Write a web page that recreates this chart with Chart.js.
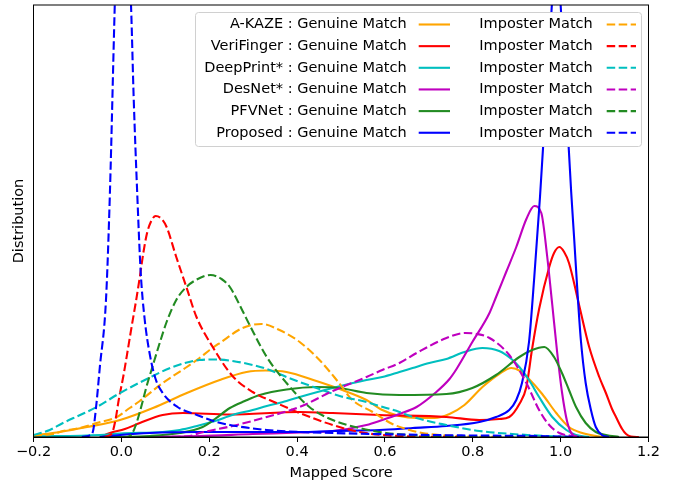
<!DOCTYPE html>
<html>
<head>
<meta charset="utf-8">
<script src="https://cdn.jsdelivr.net/npm/chart.js@4.4.1/dist/chart.umd.min.js"></script>
<style>
  html, body { margin: 0; padding: 0; background: #fff; }
  #chart { display: block; }
</style>
</head>
<body>
<canvas id="chart" width="683" height="483"></canvas>
<script>
const methods = ["A-KAZE", "VeriFinger", "DeepPrint*", "DesNet*", "PFVNet", "Proposed"];
const xTicks = [-0.2, 0.0, 0.2, 0.4, 0.6, 0.8, 1.0, 1.2];

// density curves, [mapped score, density]
const akazeGenuine = [[-0.200,0.15],[-0.140,0.5],[-0.078,1.0],[-0.003,1.7],[0.072,2.9],[0.149,4.4],[0.224,5.7],[0.285,6.5],[0.328,6.65],[0.376,6.5],[0.444,5.6],[0.503,4.7],[0.558,3.7],[0.594,2.7],[0.633,2.1],[0.672,1.9],[0.713,1.9],[0.747,2.3],[0.781,3.2],[0.822,5.0],[0.860,6.3],[0.888,6.9],[0.908,6.6],[0.928,5.8],[0.958,4.3],[0.990,2.4],[1.019,1.0],[1.049,0.4],[1.081,0.1],[1.110,0]];
const akazeImposter = [[-0.200,0.15],[-0.156,0.3],[-0.133,0.6],[-0.094,0.9],[-0.056,1.4],[-0.010,2.0],[0.019,2.9],[0.042,3.6],[0.094,5.4],[0.149,7.0],[0.178,7.9],[0.201,8.7],[0.224,9.4],[0.276,10.9],[0.319,11.3],[0.360,10.7],[0.406,9.5],[0.451,7.7],[0.490,5.7],[0.526,3.7],[0.572,2.5],[0.617,1.3],[0.656,0.7],[0.685,0.4],[0.724,0.2],[0.792,0.05],[0.860,0]];

const veriGenuine = [[-0.049,0],[-0.026,0.4],[0.008,0.8],[0.042,1.4],[0.094,2.2],[0.140,2.4],[0.247,2.25],[0.406,2.5],[0.481,2.4],[0.588,2.2],[0.740,2.0],[0.815,1.7],[0.860,1.8],[0.883,2.0],[0.906,3.3],[0.922,5.0],[0.935,8.8],[0.951,12.8],[0.974,17.0],[0.985,18.4],[0.997,19.0],[1.008,18.5],[1.019,17.4],[1.042,13.2],[1.065,9.0],[1.088,6.0],[1.103,4.4],[1.117,2.8],[1.126,2.0],[1.140,0.8],[1.149,0.3],[1.160,0.05],[1.178,0]];
const veriImposter = [[-0.038,0],[-0.030,0.1],[-0.020,0.5],[-0.013,1.8],[-0.006,3.7],[0.005,6.2],[0.015,8.8],[0.024,11.2],[0.033,13.5],[0.042,16.0],[0.050,18.4],[0.058,20.3],[0.067,21.5],[0.078,22.1],[0.092,21.8],[0.103,21.0],[0.125,18.0],[0.148,15.0],[0.171,12.0],[0.208,9.0],[0.253,6.1],[0.299,4.5],[0.353,3.4],[0.406,2.4],[0.481,1.2],[0.542,0.5],[0.594,0.2],[0.678,0.05],[0.769,0]];

const deepGenuine = [[-0.200,0.05],[-0.049,0.2],[-0.003,0.35],[0.094,0.5],[0.133,0.7],[0.172,1.1],[0.213,1.6],[0.253,2.2],[0.299,2.7],[0.331,3.1],[0.376,3.6],[0.406,4.0],[0.481,4.9],[0.558,5.7],[0.594,6.0],[0.633,6.5],[0.663,6.9],[0.701,7.4],[0.740,7.8],[0.781,8.5],[0.822,8.9],[0.860,8.6],[0.888,7.8],[0.906,7.0],[0.928,5.7],[0.951,4.0],[0.981,2.0],[1.013,0.7],[1.035,0.2],[1.065,0]];
const deepImposter = [[-0.200,0.2],[-0.163,0.7],[-0.133,1.4],[-0.094,2.2],[-0.056,3.0],[-0.003,4.4],[0.058,5.8],[0.117,7.0],[0.178,7.7],[0.217,7.75],[0.253,7.6],[0.299,7.2],[0.331,6.8],[0.376,6.0],[0.406,5.5],[0.451,4.8],[0.497,4.1],[0.558,3.5],[0.588,3.1],[0.633,2.5],[0.663,2.0],[0.740,1.2],[0.815,0.6],[0.890,0.3],[0.967,0.1],[1.042,0]];

const desGenuine = [[0.019,0],[0.178,0.1],[0.299,0.3],[0.406,0.45],[0.481,0.6],[0.558,1.2],[0.594,1.7],[0.633,2.3],[0.672,3.0],[0.717,4.5],[0.747,5.8],[0.763,6.8],[0.799,9.5],[0.838,12.4],[0.853,14.0],[0.876,16.5],[0.899,19.0],[0.922,21.8],[0.940,23.1],[0.956,22.4],[0.969,18.2],[0.981,13.2],[0.992,8.5],[1.003,4.5],[1.015,1.5],[1.026,0.3],[1.042,0]];
const desImposter = [[0.088,0],[0.156,0.1],[0.178,0.4],[0.253,1.1],[0.331,2.0],[0.406,3.0],[0.481,4.6],[0.558,6.0],[0.594,6.7],[0.633,7.4],[0.672,8.4],[0.740,9.9],[0.783,10.4],[0.810,10.3],[0.838,9.9],[0.883,8.2],[0.922,5.4],[0.951,2.7],[0.974,1.2],[0.997,0.4],[1.026,0.1],[1.050,0]];

const pfvGenuine = [[-0.026,0],[0.065,0.1],[0.133,0.4],[0.185,1.0],[0.213,1.8],[0.247,2.9],[0.281,3.6],[0.315,4.2],[0.376,4.75],[0.444,5.0],[0.497,4.9],[0.558,4.4],[0.633,4.2],[0.740,4.3],[0.799,4.9],[0.853,6.2],[0.906,8.0],[0.935,8.7],[0.963,9.0],[0.985,8.0],[1.003,6.4],[1.019,4.7],[1.035,3.0],[1.057,1.4],[1.080,0.5],[1.103,0.2],[1.133,0]];
const pfvImposter = [[0.005,0],[0.015,0.03],[0.024,0.3],[0.033,1.2],[0.042,2.5],[0.057,5.0],[0.072,7.2],[0.088,9.5],[0.103,11.5],[0.125,13.7],[0.148,15.0],[0.174,15.8],[0.203,16.2],[0.228,15.8],[0.247,15.0],[0.276,12.6],[0.292,11.2],[0.331,8.0],[0.376,5.4],[0.428,3.0],[0.481,1.7],[0.542,0.9],[0.603,0.4],[0.678,0.15],[0.769,0.05],[0.906,0]];

const propGenuine = [[-0.049,0],[-0.003,0.2],[0.065,0.4],[0.178,0.5],[0.406,0.5],[0.481,0.6],[0.588,0.7],[0.663,0.9],[0.740,1.1],[0.815,1.5],[0.853,2.0],[0.883,2.7],[0.899,3.7],[0.912,5.4],[0.928,9.5],[0.940,16.0],[0.953,24.0],[0.967,34.0],[0.980,43.2],[0.990,52.0],[1.000,43.2],[1.012,34.0],[1.024,24.5],[1.031,19.7],[1.038,14.7],[1.046,9.7],[1.057,5.4],[1.069,2.7],[1.080,1.0],[1.094,0.2],[1.110,0]];
const propImposter = [[-0.090,0],[-0.083,0.05],[-0.072,0.15],[-0.065,0.5],[-0.058,2.8],[-0.049,7.0],[-0.035,13.7],[-0.026,24.5],[-0.015,43.2],[0.000,65.0],[0.022,43.2],[0.028,34.0],[0.036,24.5],[0.044,16.5],[0.053,11.8],[0.065,8.2],[0.078,5.8],[0.094,4.4],[0.128,3.0],[0.172,2.2],[0.217,1.5],[0.247,1.2],[0.331,0.7],[0.406,0.5],[0.481,0.4],[0.633,0.25],[0.792,0.15],[0.951,0.1],[1.042,0]];

const genuine = [akazeGenuine, veriGenuine, deepGenuine, desGenuine, pfvGenuine, propGenuine];
const imposter = [akazeImposter, veriImposter, deepImposter, desImposter, pfvImposter, propImposter];

const palette = ["#ffa500", "#ff0000", "#00bfbf", "#bf00bf", "#228b22", "#0000ff"];
const dash = [8.5, 3.5];
const lw = 2.1;

Chart.defaults.font.family = "'DejaVu Sans', sans-serif";
Chart.defaults.font.size = 14.5;
Chart.defaults.color = "#000";

function curve(points, color, dashed, order) {
    return {
        data: points.map((p) => ({ x: p[0], y: p[1] })),
        borderColor: color,
        borderWidth: lw,
        borderDash: dashed ? dash : [],
        pointRadius: 0,
        fill: false,
        cubicInterpolationMode: "monotone",
        clip: 0,
        order: order,
    };
}

// first plotted ends up at the bottom
const datasets = [];
genuine.forEach((g, i) => datasets.push(curve(g, palette[i], false, 100 - i)));
imposter.forEach((g, i) => datasets.push(curve(g, palette[i], true, 50 - i)));

const frameAndLegend = {
    id: "frameAndLegend",
    afterDatasetsDraw(chart) {
        const ctx = chart.ctx;
        const a = chart.chartArea;
        ctx.save();
        ctx.strokeStyle = "#000";
        ctx.lineWidth = 1;
        ctx.strokeRect(a.left, a.top, a.right - a.left, a.bottom - a.top);

        // legend box
        ctx.beginPath();
        ctx.roundRect(195.5, 12.5, 446, 134, 3);
        ctx.fillStyle = "#fff";
        ctx.fill();
        ctx.strokeStyle = "#d0d0d0";
        ctx.stroke();

        ctx.font = "14.5px 'DejaVu Sans'";
        ctx.textBaseline = "middle";
        methods.forEach((m, i) => {
            const y = 24.5 + i * 21.65;
            ctx.fillStyle = "#000";
            ctx.textAlign = "right";
            ctx.fillText(m + " : Genuine Match", 406.7, y);
            ctx.textAlign = "left";
            ctx.fillText("Imposter Match", 479.3, y);

            ctx.strokeStyle = palette[i];
            ctx.lineWidth = lw;
            ctx.setLineDash([]);
            ctx.beginPath();
            ctx.moveTo(418.7, y);
            ctx.lineTo(450, y);
            ctx.stroke();
            ctx.setLineDash(dash);
            ctx.beginPath();
            ctx.moveTo(606.7, y);
            ctx.lineTo(636, y);
            ctx.stroke();
        });
        ctx.restore();
    },
};

new Chart(document.getElementById("chart"), {
    type: "line",
    data: { datasets: datasets },
    plugins: [frameAndLegend],
    options: {
        responsive: false,
        animation: false,
        layout: { padding: { left: 0, right: 34.5, top: 5, bottom: 0 } },
        plugins: { legend: { display: false }, tooltip: { enabled: false } },
        scales: {
            x: {
                type: "linear",
                min: -0.2,
                max: 1.2,
                afterBuildTicks: (scale) => {
                    scale.ticks = xTicks.map((v) => ({ value: v }));
                },
                afterFit: (scale) => { scale.height = 46; },
                ticks: {
                    autoSkip: false,
                    maxRotation: 0,
                    padding: 2,
                    callback: (v) => (Math.abs(v) < 1e-9 ? 0 : v).toFixed(1).replace("-", "\u2212"),
                },
                grid: { drawOnChartArea: false, tickLength: 5, tickColor: "#000", tickWidth: 1 },
                border: { color: "#000", width: 1 },
                title: { display: true, text: "Mapped Score", padding: { top: 0, bottom: 1.3 } },
            },
            y: {
                min: 0,
                max: 43.2,
                afterFit: (scale) => { scale.width = 33.5; },
                ticks: { display: false },
                grid: { display: false },
                border: { color: "#000", width: 1 },
                title: { display: true, text: "Distribution", padding: { top: 10.3, bottom: 0 } },
            },
        },
    },
});
</script>
</body>
</html>
